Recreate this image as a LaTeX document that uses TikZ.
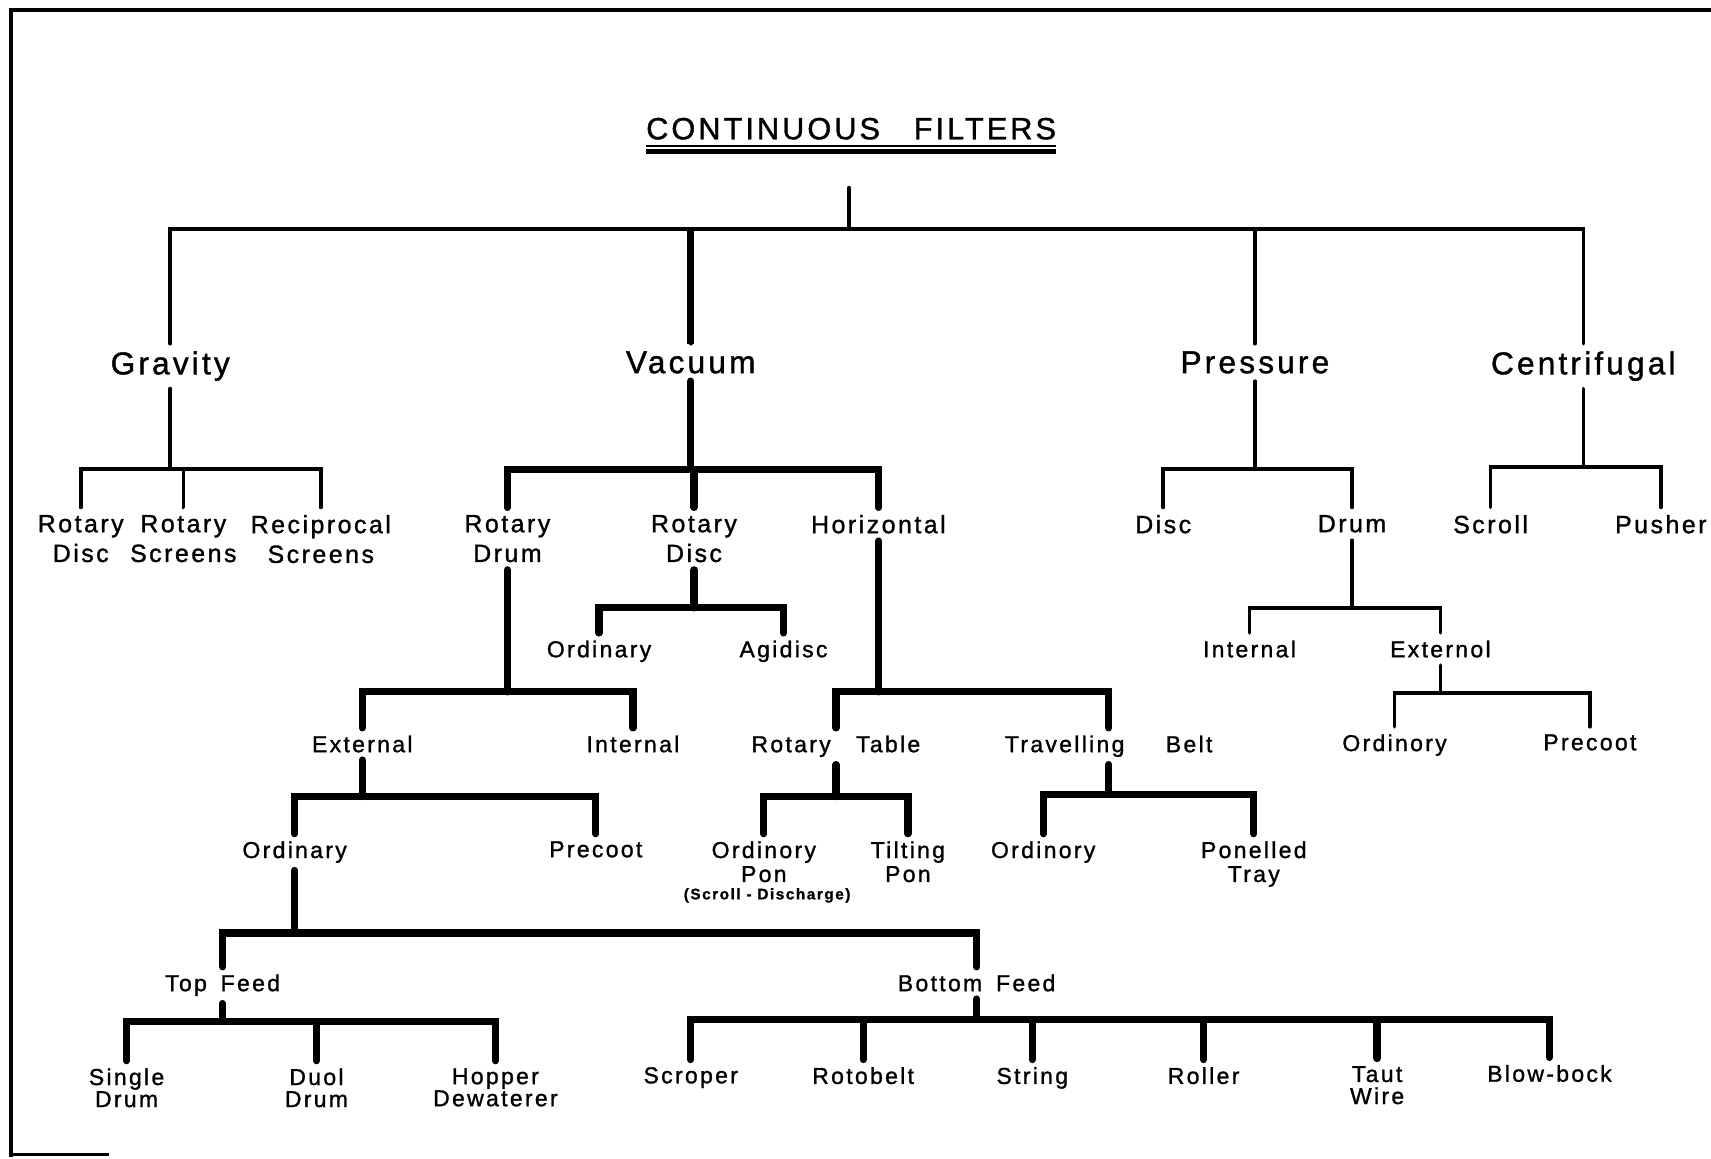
\documentclass[tikz,border=0pt]{standalone}
\usepackage{fontspec}
\setmainfont{Liberation Sans}[LetterSpace=10,FakeBold=1.2]

\begin{document}
\begin{tikzpicture}[
  x=0.02cm, y=-0.02cm,
  every node/.style={anchor=north,inner sep=0pt,outer sep=4pt,align=center},
  lvlone/.style={font=\fontsize{16.5}{19}\selectfont},
  lvltwo/.style={font=\fontsize{13}{15.5}\selectfont},
  lvlthree/.style={font=\fontsize{12}{12.5}\selectfont},
  lvlleaf/.style={font=\fontsize{12}{11.5}\selectfont},
  thinln/.style={line width=1.9pt,line cap=round},
  thickln/.style={line width=3.8pt,line cap=round},
  frame/.style={line width=2.4pt}
]
\useasboundingbox (0,0) rectangle (1568,1062);

% sheet border (only top and left survive)
\draw[frame] (10,1060) -- (10,9) -- (1568,9);
\draw[line width=1.1pt] (10,1058) -- (100,1058);

% helper: parent down to a bar at height #3, then down to each child
\newcommand{\branchto}[4][thinln]{%
  \draw[#1] (#2.south) -- (#2.south |- 0,#3) coordinate (bar#2);
  \foreach \kid in {#4} \draw[#1] (bar#2) -| (\kid.north);}

% title
\node[font=\fontsize{16}{19}\selectfont,outer sep=0pt] (title) at (780,108) {CONTINUOUS\hspace{1.1em}FILTERS};
\draw[line width=0.9pt] ([yshift=-0.12cm]title.south west) -- ([yshift=-0.12cm]title.south east);
\draw[line width=2.2pt] ([yshift=-0.22cm]title.south west) -- ([yshift=-0.22cm]title.south east);
\coordinate (root) at (778,172);

% main classes
\node[lvlone] (grav) at (156,315)  {Gravity};
\node[lvlone] (vac)  at (633,315)  {Vacuum};
\node[lvlone] (pres) at (1150,315) {Pressure};
\node[lvlone] (cent) at (1451,315) {Centrifugal};

% second level
\node[lvltwo] (gdisc) at (74,465)   {Rotary\\Disc};
\node[lvltwo] (gscr)  at (168,465)  {Rotary\\Screens};
\node[lvltwo] (grec)  at (294,465)  {Reciprocal\\Screens};
\node[lvltwo] (vdrum) at (465,465)  {Rotary\\Drum};
\node[lvltwo] (vdisc) at (636,465)  {Rotary\\Disc};
\node[lvltwo] (vhor)  at (805,465)  {Horizontal};
\node[lvltwo] (pdisc) at (1066,465) {Disc};
\node[lvltwo] (pdrum) at (1239,465) {Drum};
\node[lvltwo] (cscr)  at (1366,465) {Scroll};
\node[lvltwo] (cpush) at (1522,465) {Pusher};

% third level
\node[lvlthree] (rdord) at (549,580)  {Ordinary};
\node[lvlthree] (rdagi) at (718,580)  {Agidisc};
\node[lvlthree] (dext)  at (332,667)  {External};
\node[lvlthree] (dint)  at (580,667)  {Internal};
\node[lvlthree] (htab)  at (766,667)  {Rotary\hspace{1.1em}Table};
\node[lvlthree] (hbelt) at (1016,667) {Travelling\hspace{1.8em}Belt};
\node[lvlthree] (pint)  at (1145,580) {Internal};
\node[lvlthree] (pext)  at (1320,580) {Externol};
\node[lvlthree] (peord) at (1278,666) {Ordinory};
\node[lvlthree] (pepre) at (1457,666) {Precoot};

% fourth level
\node[lvlthree] (eord)  at (270,764)  {Ordinary};
\node[lvlthree] (epre)  at (546,764)  {Precoot};
\node[lvlthree] (tord)  at (700,764)  {Ordinory\\Pon};
\node[font=\bfseries\fontsize{8}{9}\selectfont,outer sep=0pt] (tscroll) at (703,814) {(Scroll - Discharge)};
\node[lvlthree] (ttilt) at (832,764)  {Tilting\\Pon};
\node[lvlthree] (bord)  at (956,764)  {Ordinory};
\node[lvlthree] (bpan)  at (1149,764) {Ponelled\\Tray};

% feed types
\node[lvlthree] (otop) at (204,886) {Top\hspace{0.6em}Feed};
\node[lvlthree] (obot) at (895,886) {Bottom\hspace{0.6em}Feed};

% leaves
\node[lvlleaf] (tsing) at (116,972)  {Single\\Drum};
\node[lvlleaf] (tdual) at (290,972)  {Duol\\Drum};
\node[lvlleaf] (thop)  at (454,972)  {Hopper\\Dewaterer};
\node[lvlleaf] (bscr)  at (633,971)  {Scroper};
\node[lvlleaf] (brot)  at (791,971)  {Rotobelt};
\node[lvlleaf] (bstr)  at (946,971)  {String};
\node[lvlleaf] (brol)  at (1103,971) {Roller};
\node[lvlleaf] (btaut) at (1262,970) {Taut\\Wire};
\node[lvlleaf] (bblow) at (1420,969) {Blow-bock};

% connectors
\draw[thinln] (root) -- (root |- 0,210) coordinate (barroot);
\foreach \n in {grav,vac,pres,cent} \draw[thinln] (barroot) -| (\n.north);
\draw[thickln,line cap=butt] (vac.north |- barroot) -- (vac.north);

\branchto{grav}{430}{gdisc,gscr,grec}
\branchto[thickln]{vac}{430}{vdrum,vdisc,vhor}
\branchto[thickln]{vdisc}{557}{rdord,rdagi}
\branchto[thickln]{vdrum}{634}{dext,dint}
\branchto[thickln]{vhor}{634}{htab,hbelt}
\branchto[thickln]{dext}{730}{eord,epre}
\branchto[thickln]{htab}{730}{tord,ttilt}
\branchto[thickln]{hbelt}{728}{bord,bpan}
\branchto[thickln]{eord}{855}{otop,obot}
\branchto[thickln]{otop}{936}{tsing,tdual,thop}
\branchto[thickln]{obot}{934}{bscr,brot,bstr,brol,btaut,bblow}
\branchto{pres}{430}{pdisc,pdrum}
\branchto{pdrum}{557}{pint,pext}
\branchto{pext}{635}{peord,pepre}
\branchto{cent}{428}{cscr,cpush}
\end{tikzpicture}
\end{document}
